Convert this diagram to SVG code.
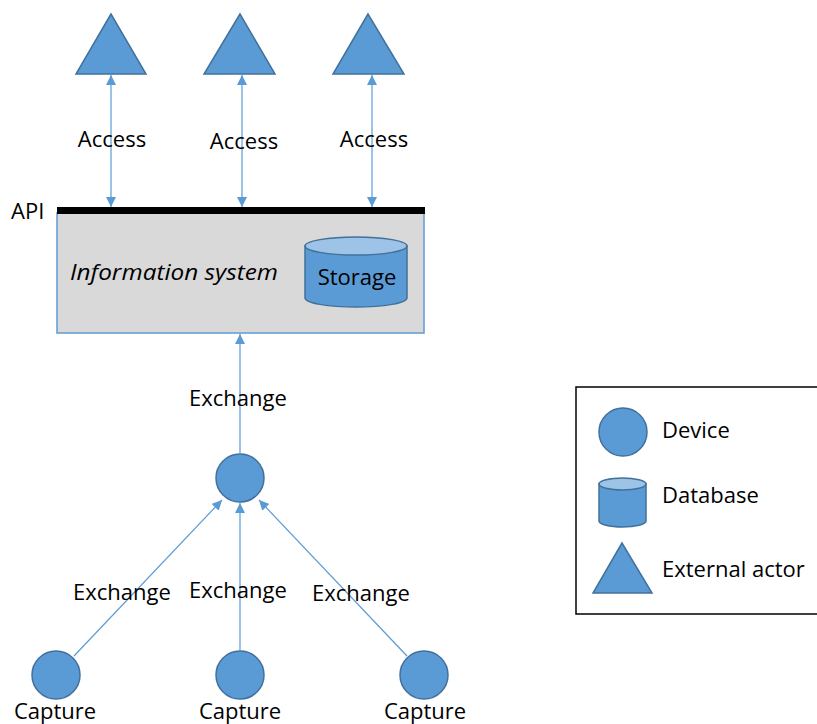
<svg xmlns="http://www.w3.org/2000/svg" width="817" height="724" viewBox="0 0 817 724">
  <defs>
    <style>
      text { font-family: "Open Sans", "Liberation Sans", sans-serif; font-size: 22px; fill: #000; }
      .shape { fill: #5b9bd5; stroke: #41719c; stroke-width: 1.5; }
      .cyltop { fill: #9dc3e6; stroke: #41719c; stroke-width: 1.5; }
      .conn { stroke: #5b9bd5; stroke-width: 1.2; fill: none; }
      .mid { text-anchor: middle; }
    </style>
    <marker id="arrow" viewBox="0 0 10 10" refX="10" refY="5" markerWidth="10" markerHeight="10" markerUnits="userSpaceOnUse" orient="auto-start-reverse">
      <path d="M0,0 L10,5 L0,10 z" fill="#5b9bd5"/>
    </marker>
  </defs>

  <rect width="817" height="724" fill="#fff"/>

  <!-- external actors -->
  <g id="actor-1"><polygon class="shape" points="111,14 76,74 146,74"/></g>
  <g id="actor-2"><polygon class="shape" points="240,14 204,74 275,74"/></g>
  <g id="actor-3"><polygon class="shape" points="368,14 333,74 404,74"/></g>

  <!-- information system with API bar -->
  <g id="information-system">
    <rect x="57" y="213" width="367" height="120" fill="#d9d9d9" stroke="#5b9bd5" stroke-width="1.5"/>
    <rect x="57" y="207" width="368" height="7" fill="#000"/>
    <text x="11" y="219">API</text>
    <text x="70" y="280" font-style="italic" font-size="23" textLength="208" lengthAdjust="spacingAndGlyphs">Information system</text>
  </g>

  <g id="storage">
    <path class="shape" d="M305,246 L305,298 A51,9 0 0 0 407,298 L407,246 Z"/>
    <ellipse class="cyltop" cx="356" cy="246" rx="51" ry="9"/>
    <text class="mid" x="357" y="285">Storage</text>
  </g>

  <!-- aggregating device and capture devices -->
  <g id="device-hub"><circle class="shape" cx="240" cy="478" r="24"/></g>
  <g id="capture-1"><circle class="shape" cx="56" cy="675" r="24"/><text class="mid" x="55" y="719">Capture</text></g>
  <g id="capture-2"><circle class="shape" cx="240" cy="675" r="24"/><text class="mid" x="240" y="719">Capture</text></g>
  <g id="capture-3"><circle class="shape" cx="424" cy="675" r="24"/><text class="mid" x="425" y="719">Capture</text></g>

  <!-- connectors -->
  <g id="connectors">
    <line class="conn" x1="111" y1="75" x2="111" y2="207" marker-start="url(#arrow)" marker-end="url(#arrow)"/>
    <line class="conn" x1="242" y1="75" x2="242" y2="207" marker-start="url(#arrow)" marker-end="url(#arrow)"/>
    <line class="conn" x1="372" y1="75" x2="372" y2="207" marker-start="url(#arrow)" marker-end="url(#arrow)"/>
    <line class="conn" x1="240" y1="454" x2="240" y2="334" marker-end="url(#arrow)"/>
    <line class="conn" x1="74" y1="656" x2="222" y2="500" marker-end="url(#arrow)"/>
    <line class="conn" x1="240" y1="651" x2="240" y2="503" marker-end="url(#arrow)"/>
    <line class="conn" x1="407" y1="656" x2="259" y2="500" marker-end="url(#arrow)"/>
  </g>

  <!-- connector labels -->
  <g id="labels">
    <text class="mid" x="112" y="147">Access</text>
    <text class="mid" x="244" y="149">Access</text>
    <text class="mid" x="374" y="147">Access</text>
    <text class="mid" x="238" y="406">Exchange</text>
    <text class="mid" x="122" y="600">Exchange</text>
    <text class="mid" x="238" y="598">Exchange</text>
    <text class="mid" x="361" y="601">Exchange</text>
  </g>

  <!-- legend -->
  <g id="legend">
    <rect x="576" y="387" width="260" height="227" fill="#fff" stroke="#000" stroke-width="1.5"/>
    <circle class="shape" cx="623" cy="432" r="24"/>
    <text x="662" y="438">Device</text>
    <path class="shape" d="M599,484 L599,521 A23.5,6 0 0 0 646,521 L646,484 Z"/>
    <ellipse class="cyltop" cx="622.5" cy="484" rx="23.5" ry="6"/>
    <text x="662" y="503">Database</text>
    <polygon class="shape" points="622,543 593,593 652,593"/>
    <text x="662" y="577">External actor</text>
  </g>
</svg>
